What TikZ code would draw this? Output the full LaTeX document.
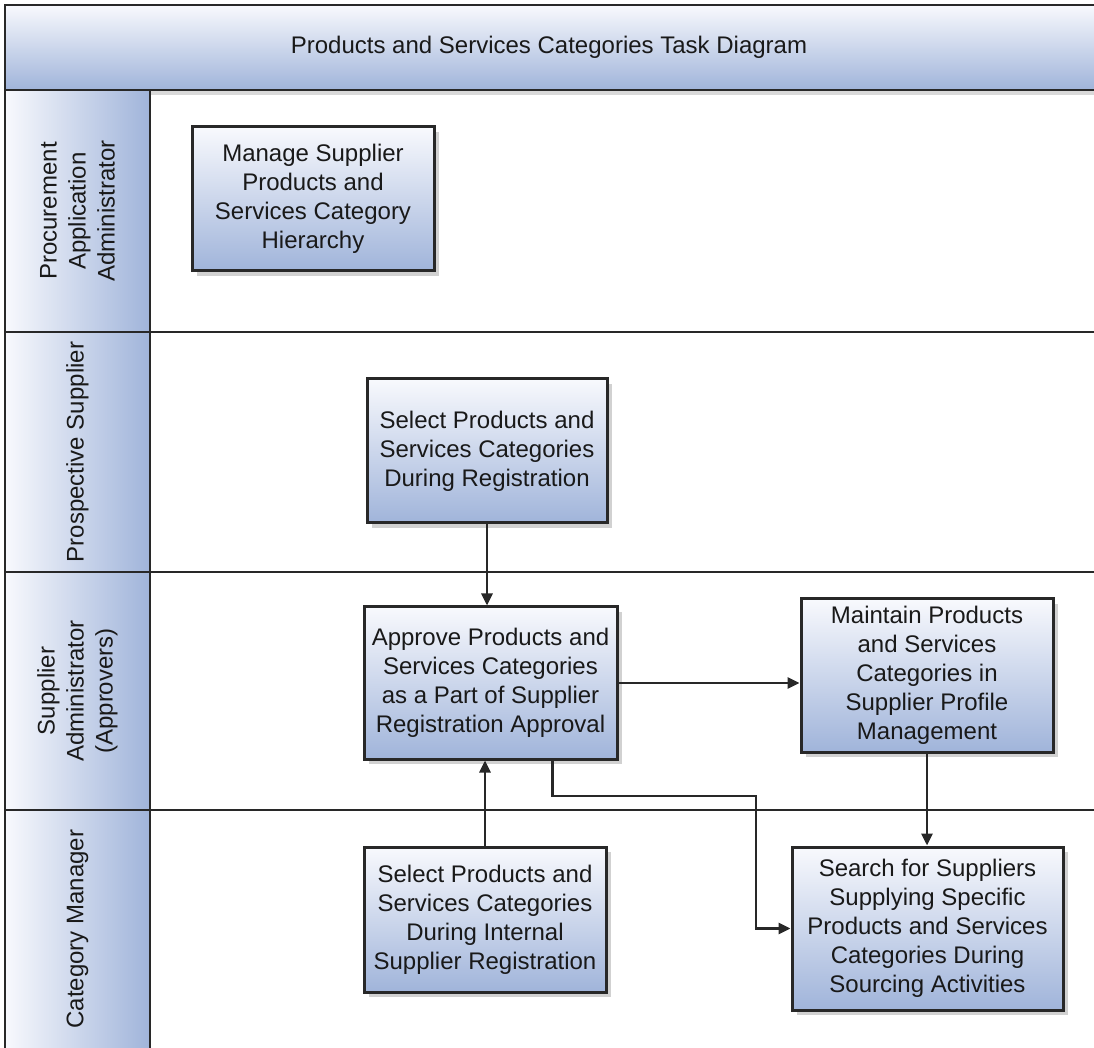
\documentclass[tikz,border=0pt]{standalone}
\usepackage{fontspec}
\setmainfont{Liberation Sans}
\usetikzlibrary{arrows.meta, shadows}
\definecolor{paleblue}{RGB}{248,249,253}
\definecolor{midblue}{RGB}{160,180,218}
\definecolor{edge}{RGB}{40,40,40}

\begin{document}
\begin{tikzpicture}[x=0.5pt, y=-0.5pt, line width=1.2pt,
    font=\fontsize{12}{14.5}\selectfont, text=black!90,
    task/.style={draw=edge, line width=1.5pt, top color=paleblue, bottom color=midblue,
      align=center, inner sep=2pt,
      drop shadow={shadow xshift=2.5pt, shadow yshift=-2.5pt, fill=black!18, opacity=1}},
    lane/.style={draw=edge, left color=paleblue, right color=midblue},
    arr/.style={draw=edge, line width=1.4pt, -{Triangle[length=6pt,width=5.5pt]}}]
  \clip (0,0) rectangle (1094,1048);
  \fill[black!15] (5,90) rectangle (1110,95);
  \draw[edge, top color=paleblue, bottom color=midblue] (5,5) rectangle (1110,90);
  \node (title) at (549,47) {Products and Services Categories Task Diagram};
  \foreach \top/\bot in {90/332, 332/572, 572/810, 810/1060}
    \draw[lane] (5,\top) rectangle (150,\bot);
  \foreach \y in {332,572,810}
    \draw[edge] (150,\y) -- (1110,\y);
  \node[rotate=90, align=center] (padm) at (77.5,211) {Procurement\\Application\\Administrator};
  \node[rotate=90] (psup) at (77.5,452) {Prospective Supplier};
  \node[rotate=90, align=center] (sadm) at (77.5,691) {Supplier\\Administrator\\(Approvers)};
  \node[rotate=90] (cmgr) at (77.5,929) {Category Manager};

  \node[task, minimum width=121pt, minimum height=72pt] (mng) at (313,199)
    {Manage Supplier\\Products and\\Services Category\\Hierarchy};
  \node[task, minimum width=120pt, minimum height=72pt] (selreg) at (487,451)
    {Select Products and\\Services Categories\\During Registration};
  \node[task, minimum width=126.5pt, minimum height=76pt] (appr) at (490.5,683)
    {Approve Products and\\Services Categories\\as a Part of Supplier\\Registration Approval};
  \node[task, minimum width=126pt, minimum height=76.5pt] (maint) at (927,675.5)
    {Maintain Products\\and Services\\Categories in\\Supplier Profile\\Management};
  \node[task, minimum width=121pt, minimum height=72.5pt] (selint) at (485,919.5)
    {Select Products and\\Services Categories\\During Internal\\Supplier Registration};
  \node[task, minimum width=135.5pt, minimum height=81.5pt] (search) at (927.5,928.5)
    {Search for Suppliers\\Supplying Specific\\Products and Services\\Categories During\\Sourcing Activities};

  \draw[arr] (selreg.south) -- (selreg.south |- appr.north);
  \draw[arr] (selint.north) -- (selint.north |- appr.south);
  \draw[arr] (appr.east) -- (appr.east -| maint.west);
  \draw[arr] (maint.south) -- (maint.south |- search.north);
  \coordinate (bend) at (756,796);
  \draw[arr] ([xshift=31pt]appr.south) |- (bend) |- (search.west);
\end{tikzpicture}
\end{document}
